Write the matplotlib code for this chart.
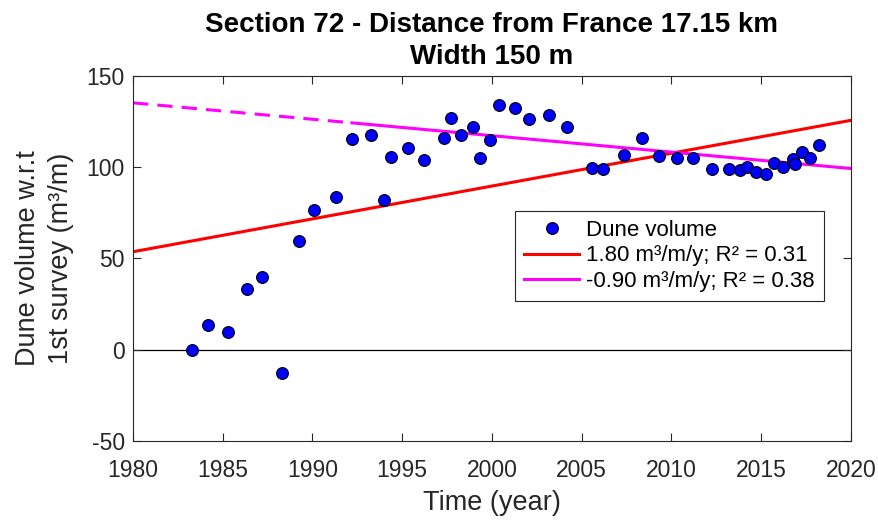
import numpy as np
import matplotlib
matplotlib.use("Agg")
import matplotlib.pyplot as plt

plt.rcParams["font.family"] = ["Liberation Sans", "DejaVu Sans"]
plt.rcParams["axes.unicode_minus"] = False

# survey years and dune volume (m3/m) relative to first survey
years = [1983.3, 1984.2, 1985.3, 1986.35, 1987.2, 1988.3, 1989.25, 1990.1,
         1991.3, 1992.2, 1993.25, 1994.0, 1994.4, 1995.3, 1996.2, 1997.35,
         1997.7, 1998.25, 1998.95, 1999.35, 1999.9, 2000.4, 2001.3, 2002.05,
         2003.2, 2004.2, 2005.6, 2006.2, 2007.35, 2008.35, 2009.3, 2010.3,
         2011.2, 2012.25, 2013.2, 2013.8, 2014.2, 2014.7, 2015.25, 2015.7,
         2016.2, 2016.8, 2016.9, 2017.3, 2017.75, 2018.2]
volume = [0.0, 13.7, 9.9, 33.4, 40.0, -12.6, 59.7, 76.7,
          83.8, 115.6, 117.8, 81.8, 105.8, 110.3, 103.7, 116.3,
          127.1, 117.6, 121.8, 105.0, 114.9, 134.1, 132.6, 126.6,
          128.6, 121.8, 99.4, 98.8, 106.5, 115.8, 106.3, 105.0,
          105.0, 99.0, 99.0, 98.3, 99.9, 97.2, 96.3, 102.6,
          100.3, 104.7, 101.8, 108.1, 105.2, 112.0]

# linear trends: slope (m3/m/y), value at 2000, R2
trend_all = (1.80, 89.7, 0.31)
trend_late = (-0.90, 117.3, 0.38)
late_start = 1992.2

x_full = np.array([1980, 2020])
x_dash = np.array([1980, late_start])
x_late = np.array([late_start, 2020])


def trend(x, t):
    return t[0] * (x - 2000) + t[1]


fig = plt.figure(figsize=(8.79, 5.22), dpi=100)
ax = fig.add_axes([0.1513, 0.1552, 0.8167, 0.6992])

ax.axhline(0, color="black", lw=0.9, zorder=1)
ax.plot(years, volume, "o", ms=8.5, mfc="#0000ff", mec="black", mew=0.8,
        label="Dune volume", zorder=3)
ax.plot(x_full, trend(x_full, trend_all), color="#ff0000", lw=2.2,
        label=f"{trend_all[0]:.2f} m³/m/y; R² = {trend_all[2]:.2f}", zorder=2)
ax.plot(x_dash, trend(x_dash, trend_late), color="#ff00ff", lw=2.2, ls=(0, (5, 3)), zorder=2)
ax.plot(x_late, trend(x_late, trend_late), color="#ff00ff", lw=2.2,
        label=f"{trend_late[0]:.2f} m³/m/y; R² = {trend_late[2]:.2f}", zorder=2)

ax.set_xlim(1980, 2020)
ax.set_ylim(-50, 150)
ax.set_xticks(range(1980, 2021, 5))
ax.set_yticks(range(-50, 151, 50))
ax.tick_params(direction="in", top=True, right=True, labelsize=16.5, colors="#262626",
               length=6, width=0.8)
ax.tick_params(axis="x", pad=13)
ax.tick_params(axis="y", pad=6)
for s in ax.spines.values():
    s.set_color("#262626")
    s.set_linewidth(0.8)

ax.set_xlabel("Time (year)", fontsize=19.5, labelpad=6, color="#262626")
ax.set_ylabel("Dune volume w.r.t\n1st survey (m³/m)", fontsize=19.5, linespacing=1.35,
              labelpad=9, color="#262626")
ax.set_title("Section 72 - Distance from France 17.15 km\nWidth 150 m",
             fontsize=20, fontweight="bold", linespacing=1.3, pad=8.5)

leg = ax.legend(loc="upper left", bbox_to_anchor=(0.532, 0.630), borderaxespad=0,
                fontsize=16, frameon=True, fancybox=False, framealpha=1,
                edgecolor="#262626", handlelength=2.5, borderpad=0.4,
                labelspacing=0.2, handletextpad=0.3)
leg.get_frame().set_linewidth(0.8)
leg.set_zorder(5)

fig.savefig("out.png", dpi=100)
